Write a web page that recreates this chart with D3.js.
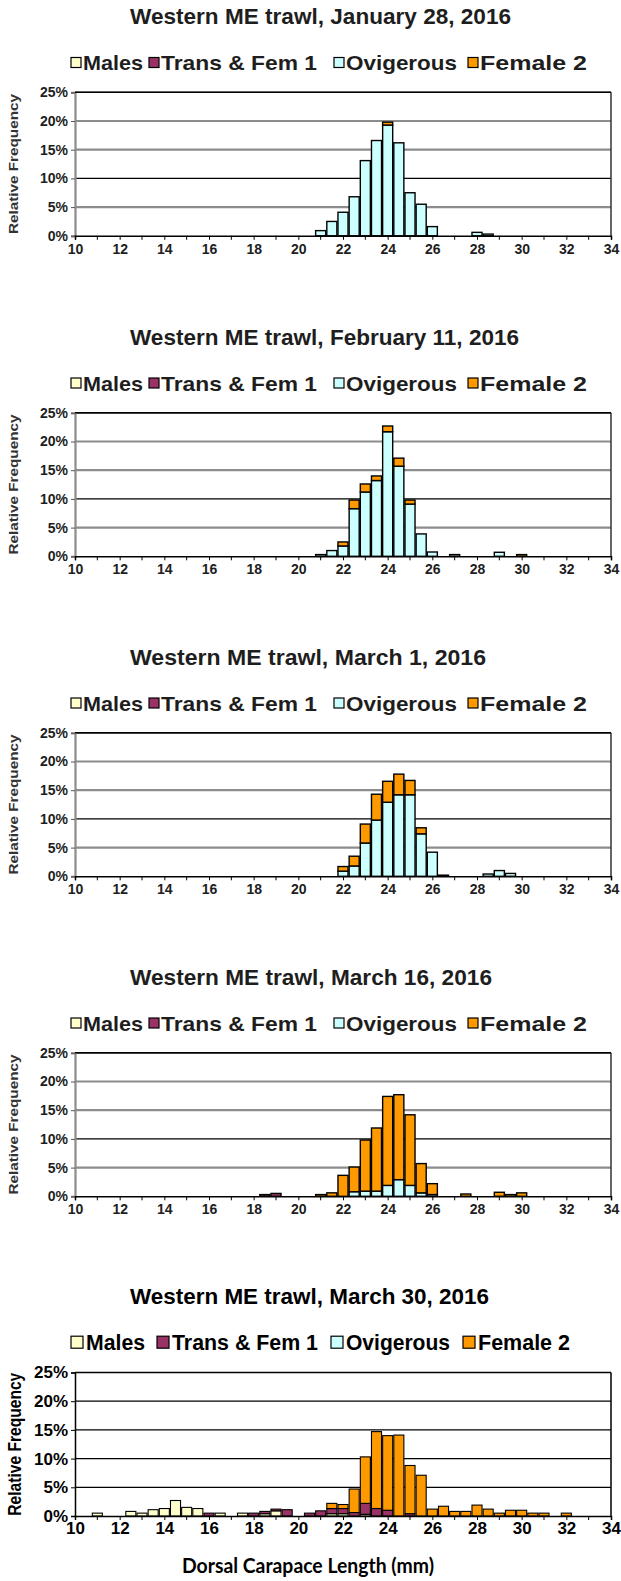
<!DOCTYPE html>
<html lang="en">
<head>
<meta charset="UTF-8">
<title>Western ME trawl</title>
<style>
  body{margin:0;background:#fff;}
  svg{display:block;}
  text{font-family:"Liberation Sans",Arial,sans-serif;font-weight:bold;}
</style>
</head>
<body>
<svg width="621" height="1581"></svg>
<script src="https://cdn.jsdelivr.net/npm/d3@7"></script>
<script>
  // series
  var seriesKeys = ['males', 'trans', 'ovig', 'fem2'];
  var seriesNames = ['Males', 'Trans & Fem 1', 'Ovigerous', 'Female 2'];
  var seriesColors = ['#ffffcc', '#993366', '#ccffff', '#ff9900'];
  // axes
  var yTicks = [0, 5, 10, 15, 20, 25];
  var xLabels = [10, 12, 14, 16, 18, 20, 22, 24, 26, 28, 30, 32, 34];
  var xMinor = [11, 13, 15, 17, 19, 21, 23, 25, 27, 29, 31, 33];
  var titles = [
    'Western ME trawl, January 28, 2016',
    'Western ME trawl, February 11, 2016',
    'Western ME trawl,  March 1, 2016',
    'Western ME trawl, March 16, 2016',
    'Western ME trawl, March 30, 2016'
  ];

  // data: [carapace length mm, relative frequency %]
  var jan28Ovig = [[21, 0.9], [21.5, 2.5], [22, 4.1], [22.5, 6.8], [23, 13.1], [23.5, 16.6], [24, 19.3],
    [24.5, 16.2], [25, 7.5], [25.5, 5.5], [26, 1.6], [28, 0.6], [28.5, 0.3]];
  var jan28Fem2 = [[24, 0.5]];

  var feb11Ovig = [[21, 0.3], [21.5, 1.0], [22, 1.8], [22.5, 8.3], [23, 11.2], [23.5, 13.2], [24, 21.7],
    [24.5, 15.7], [25, 9.1], [25.5, 3.9], [26, 0.75], [27, 0.3], [29, 0.7]];
  var feb11Fem2 = [[22, 0.7], [22.5, 1.5], [23, 1.4], [23.5, 0.8], [24, 1.0], [24.5, 1.4], [25, 0.7], [30, 0.3]];

  var mar1Ovig = [[22, 0.9], [22.5, 1.8], [23, 5.8], [23.5, 9.8], [24, 12.9], [24.5, 14.2], [25, 14.2],
    [25.5, 7.4], [26, 4.2], [28.5, 0.4], [29, 1.0], [29.5, 0.5]];
  var mar1Fem2 = [[22, 0.8], [22.5, 1.7], [23, 3.3], [23.5, 4.5], [24, 3.65], [24.5, 3.6], [25, 2.5],
    [25.5, 1.05], [26.5, 0.2]];

  var mar16Trans = [[18.5, 0.3], [19, 0.5]];
  var mar16Ovig = [[22.5, 0.8], [23, 0.9], [23.5, 0.9], [24, 1.9], [24.5, 2.9], [25, 1.9], [25.5, 0.6], [26, 0.3]];
  var mar16Fem2 = [[21, 0.3], [21.5, 0.6], [22, 3.65], [22.5, 4.3], [23, 8.9], [23.5, 11.0], [24, 15.5],
    [24.5, 14.8], [25, 12.3], [25.5, 5.1], [26, 1.9], [27.5, 0.4], [29, 0.7], [29.5, 0.3], [30, 0.6]];

  var mar30Males = [[11, 0.5], [12.5, 0.8], [13, 0.5], [13.5, 1.1], [14, 1.3], [14.5, 2.7], [15, 1.5],
    [15.5, 1.3], [16.5, 0.5], [17.5, 0.5], [18.5, 0.4], [19, 0.9], [21.5, 0.4], [22, 0.4], [23, 0.3]];
  var mar30Trans = [[16, 0.5], [18, 0.5], [18.5, 0.4], [19, 0.3], [19.5, 1.1], [20.5, 0.5], [21, 0.9],
    [21.5, 0.9], [22, 0.9], [22.5, 0.6], [23, 1.9], [23.5, 1.3], [24, 1.0], [25, 0.4]];
  var mar30Fem2 = [[21.5, 0.9], [22, 0.7], [22.5, 4.1], [23, 8.1], [23.5, 13.4], [24, 13.0], [24.5, 14.1],
    [25, 8.4], [25.5, 7.1], [26, 1.2], [26.5, 1.7], [27, 0.8], [27.5, 0.8], [28, 1.9], [28.5, 1.2],
    [29, 0.5], [29.5, 1.0], [30, 1.0], [30.5, 0.5], [31, 0.5], [32, 0.5]];

  var panels = [
    {ovig: jan28Ovig, fem2: jan28Fem2},
    {ovig: feb11Ovig, fem2: feb11Fem2},
    {ovig: mar1Ovig, fem2: mar1Fem2},
    {trans: mar16Trans, ovig: mar16Ovig, fem2: mar16Fem2},
    {males: mar30Males, trans: mar30Trans, fem2: mar30Fem2}
  ];

  var svg = d3.select('svg');
  var plotL = 75, plotR = 611, plotH = 143.5;
  var tops = [92.3, 412.8, 732.8, 1052.8, 1372.5];
  var x = d3.scaleLinear().domain([10, 34]).range([plotL, plotR]);
  var bw = (x(10.5) - x(10)) * 0.9;

  // old (blurry) panels vs the crisp last one
  var styleOld = {title: 22.5, titleW: [381, 389, 356, 362], leg: 21, legSq: 10,
    legSqX: [71, 149, 334, 468], legTx: [83, 161, 346, 480], legW: [60, 156, 111, 107],
    tick: 14, yTitle: 12.5, color: '#1e1e1e'};
  var styleNew = {title: 22, titleW: [359], leg: 22, legSq: 12,
    legSqX: [71, 157, 331, 463], legTx: [86, 172, 346, 478], legW: [59, 146, 104, 92],
    tick: 17, yTitle: 17.5, color: '#000'};

  panels.forEach(function (p, i) {
    var top = tops[i], bottom = top + plotH, off = top - 92.3;
    var st = i < 4 ? styleOld : styleNew;
    var g = svg.append('g');
    var y = d3.scaleLinear().domain([0, 25]).range([bottom, top]);

    // rows for stacking
    var byMm = {};
    seriesKeys.forEach(function (k) {
      (p[k] || []).forEach(function (d) {
        if (!byMm[d[0]]) byMm[d[0]] = {mm: d[0], males: 0, trans: 0, ovig: 0, fem2: 0};
        byMm[d[0]][k] = d[1];
      });
    });
    var rows = Object.values(byMm).sort(function (a, b) { return a.mm - b.mm; });
    var stacked = d3.stack().keys(seriesKeys)(rows);

    // title
    g.append('text').attr('x', 130).attr('y', 24 + off)
      .attr('font-size', st.title).attr('fill', st.color)
      .attr('textLength', i < 4 ? st.titleW[i] : st.titleW[0]).attr('lengthAdjust', 'spacingAndGlyphs')
      .text(titles[i]);

    // legend
    var legY = (i < 4 ? 62.5 : 62) + off;
    seriesKeys.forEach(function (k, j) {
      g.append('rect').attr('x', st.legSqX[j]).attr('y', legY - st.legSq / 2)
        .attr('width', st.legSq).attr('height', st.legSq)
        .attr('fill', seriesColors[j]).attr('stroke', '#000').attr('stroke-width', 1.2);
      g.append('text').attr('x', st.legTx[j]).attr('y', legY + st.leg * 0.36)
        .attr('font-size', st.leg).attr('fill', st.color)
        .attr('textLength', st.legW[j]).attr('lengthAdjust', 'spacingAndGlyphs')
        .text(seriesNames[j]);
    });

    // gridlines
    yTicks.forEach(function (t) {
      if (t === 0) return;
      var grey = i < 4 && t !== 10 && t !== 25;
      g.append('line').attr('x1', plotL).attr('x2', plotR).attr('y1', y(t)).attr('y2', y(t))
        .attr('stroke', grey ? '#8c8c8c' : '#000').attr('stroke-width', grey ? 2.2 : 1.2);
    });
    // frame right side
    g.append('line').attr('x1', plotR).attr('x2', plotR).attr('y1', top).attr('y2', bottom)
      .attr('stroke', i < 4 ? '#333' : '#000').attr('stroke-width', 1.5);

    // bars
    stacked.forEach(function (layer, j) {
      g.append('g').selectAll('rect').data(layer.filter(function (d) { return d[1] > d[0]; }))
        .enter().append('rect')
        .attr('x', function (d) { return x(d.data.mm) - bw / 2; })
        .attr('y', function (d) { return y(d[1]); })
        .attr('width', bw)
        .attr('height', function (d) { return y(d[0]) - y(d[1]); })
        .attr('fill', seriesColors[j])
        .attr('stroke', '#000').attr('stroke-width', i < 4 ? 1.4 : 1.1);
    });

    // y axis
    var yAxis = g.append('g').attr('transform', 'translate(' + plotL + ',0)')
      .call(d3.axisLeft(y).tickValues(yTicks).tickSize(4).tickPadding(3)
        .tickFormat(function (d) { return d + '%'; }));
    yAxis.select('.domain').attr('stroke', i < 4 ? '#8c8c8c' : '#000').attr('stroke-width', i < 4 ? 2.2 : 1.5);
    yAxis.selectAll('.tick line').attr('stroke', i < 4 ? '#555' : '#000');
    yAxis.selectAll('text').attr('font-size', st.tick).attr('fill', st.color)
      .attr('font-family', '"Liberation Sans",Arial,sans-serif').attr('font-weight', 'bold');

    // x axis
    var xAxis = g.append('g').attr('transform', 'translate(0,' + bottom + ')')
      .call(d3.axisBottom(x).tickValues(xLabels).tickSize(4).tickPadding(i < 4 ? 4 : 2)
        .tickFormat(d3.format('d')));
    xAxis.select('.domain').attr('stroke', '#000').attr('stroke-width', 1.5);
    xAxis.selectAll('text').attr('font-size', st.tick).attr('fill', st.color)
      .attr('font-family', '"Liberation Sans",Arial,sans-serif').attr('font-weight', 'bold');
    xAxis.selectAll('.minor').data(xMinor).enter().append('line').attr('class', 'minor')
      .attr('x1', function (d) { return x(d); }).attr('x2', function (d) { return x(d); })
      .attr('y1', 0).attr('y2', 4).attr('stroke', '#000');
    // top frame
    g.append('line').attr('x1', plotL).attr('x2', plotR).attr('y1', top).attr('y2', top)
      .attr('stroke', '#000').attr('stroke-width', 1.5);

    // y axis title
    var yc = (top + bottom) / 2;
    g.append('text').attr('transform', 'translate(' + (i < 4 ? 18 : 21) + ',' + yc + ') rotate(-90)')
      .attr('text-anchor', 'middle').attr('font-size', st.yTitle).attr('fill', i < 4 ? '#333' : '#000')
      .attr('textLength', i < 4 ? 140 : 143).attr('lengthAdjust', 'spacingAndGlyphs')
      .text(i < 4 ? 'Relative  Frequency' : 'Relative Frequency');
  });

  // x axis title under the last panel
  svg.append('text').attr('x', 308).attr('y', 1573).attr('text-anchor', 'middle')
    .attr('font-size', 20).attr('fill', '#000')
    .style('font-family', 'Lato, "Open Sans", sans-serif')
    .attr('textLength', 252).attr('lengthAdjust', 'spacingAndGlyphs')
    .text('Dorsal Carapace Length (mm)');
</script>
</body>
</html>
